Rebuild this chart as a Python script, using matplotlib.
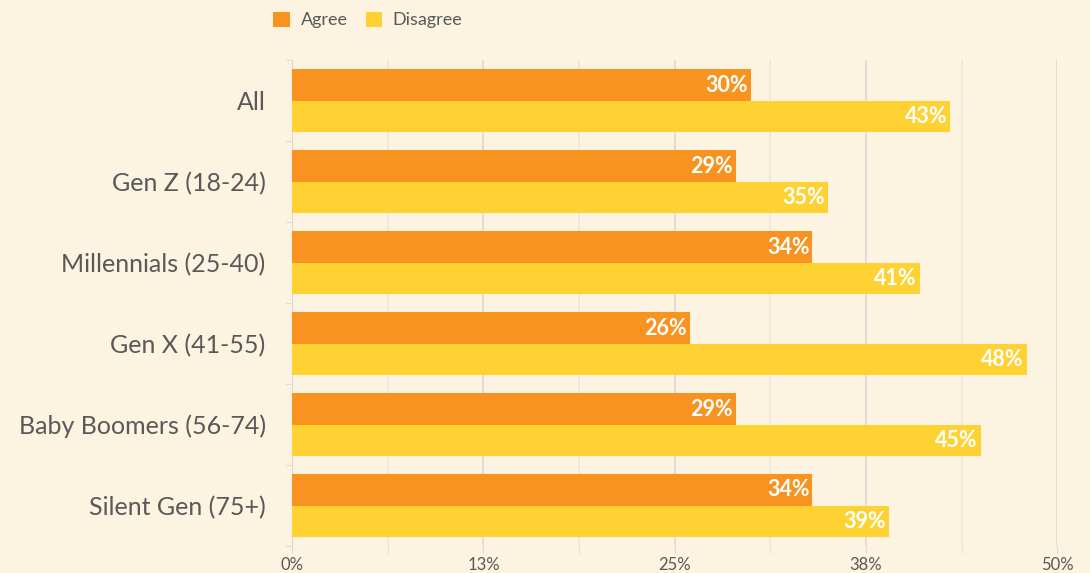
import numpy as np
import matplotlib.pyplot as plt

plt.rcParams['font.family'] = ['Lato', 'DejaVu Sans']

# Data
groups = ['All', 'Gen Z (18-24)', 'Millennials (25-40)', 'Gen X (41-55)',
          'Baby Boomers (56-74)', 'Silent Gen (75+)']
agree = [30, 29, 34, 26, 29, 34]
disagree = [43, 35, 41, 48, 45, 39]
xticks = [0, 12.5, 25, 37.5, 50]
xtick_labels = ['0%', '13%', '25%', '38%', '50%']

bg = '#fdf3e1'
c_agree = '#f7931e'
c_dis = '#ffd234'
txt = '#595959'

fig = plt.figure(figsize=(10.9, 5.73), dpi=100, facecolor=bg)
ax = fig.add_axes([0.268, 0.047, 0.702, 0.848], facecolor=bg)

y = np.arange(len(groups))
h = 0.385
ax.barh(y - h / 2, agree, height=h, color=c_agree, label='Agree', zorder=3)
ax.barh(y + h / 2, disagree, height=h, color=c_dis, label='Disagree', zorder=3)

for i in range(len(groups)):
    ax.text(agree[i] - 0.2, y[i] - h / 2, f'{agree[i]}%', ha='right', va='center',
            color='white', fontsize=15.5, fontweight='bold', zorder=4)
    ax.text(disagree[i] - 0.2, y[i] + h / 2, f'{disagree[i]}%', ha='right', va='center',
            color='white', fontsize=15.5, fontweight='bold', zorder=4)

ax.set_ylim(len(groups) - 0.5, -0.5)
ax.set_xlim(0, 50)

# grid every 6.25
for gx in np.arange(0, 50.01, 6.25):
    major = gx in xticks
    ax.axvline(gx, color='#d9d9d9' if major else '#ebe6dc', lw=1.2, zorder=1)

ax.set_xticks(xticks)
ax.set_xticklabels(xtick_labels, color=txt, fontsize=12)
ax.set_xticks(np.arange(0, 50.01, 6.25), minor=True)
ax.tick_params(axis='x', which='both', length=5, color='#d9d9d9', pad=3)

ax.set_yticks(y)
ax.set_yticklabels(groups, color=txt, fontsize=18)
ax.set_yticks(np.arange(-0.5, len(groups), 1.0), minor=True)
ax.tick_params(axis='y', which='major', length=0, pad=19)
ax.tick_params(axis='y', which='minor', length=5, color='#d9d9d9')

for s in ['top', 'right', 'bottom']:
    ax.spines[s].set_visible(False)
ax.spines['left'].set_color('#d9d9d9')

leg = fig.legend(loc='upper left', bbox_to_anchor=(0.236, 1.008), ncol=2, frameon=False,
                 fontsize=13, handlelength=0.9, handleheight=0.9, columnspacing=1.0,
                 handletextpad=0.6)
for t in leg.get_texts():
    t.set_color(txt)

fig.savefig('out.png', dpi=100, facecolor=bg)
